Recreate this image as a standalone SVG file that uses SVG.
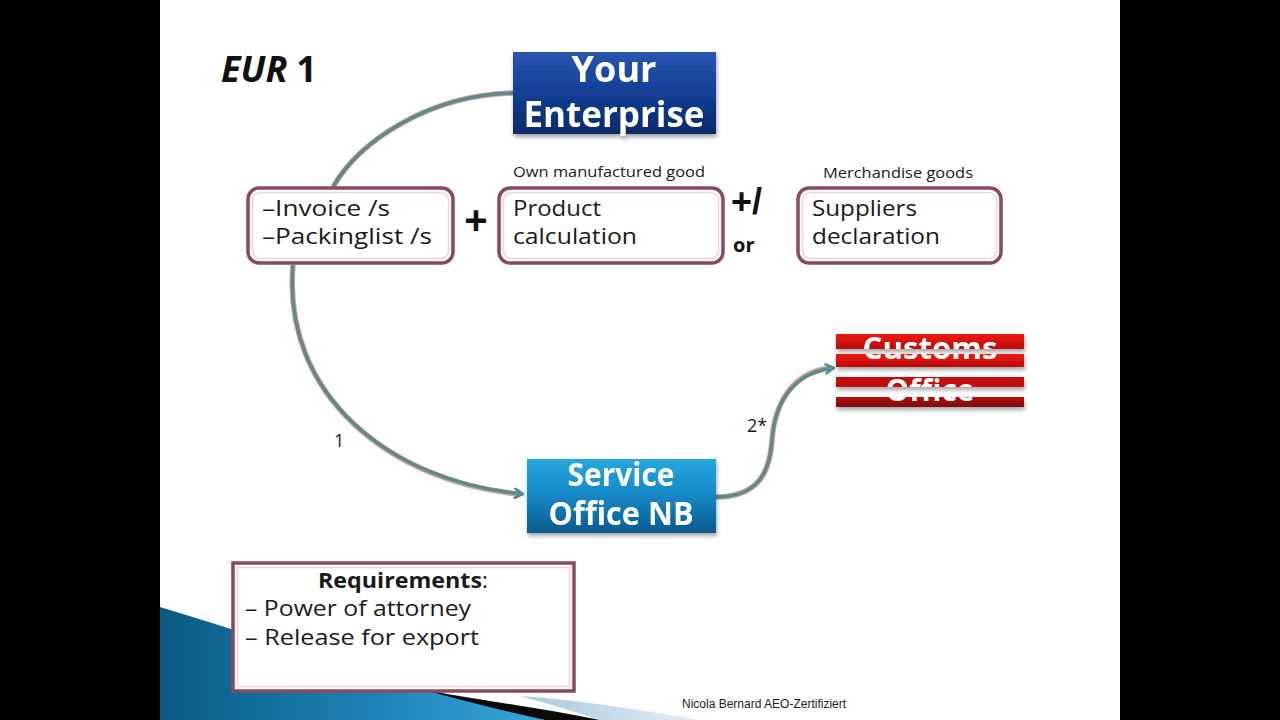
<svg xmlns="http://www.w3.org/2000/svg" width="1280" height="720" viewBox="0 0 1280 720">
<defs>
<linearGradient id="gEnt" x1="0" y1="0" x2="0" y2="1"><stop offset="0" stop-color="#2a55b0"/><stop offset="0.5" stop-color="#133e94"/><stop offset="1" stop-color="#0a2a6a"/></linearGradient>
<linearGradient id="gSvc" x1="0" y1="0" x2="0" y2="1"><stop offset="0" stop-color="#27a8e0"/><stop offset="0.5" stop-color="#1487c4"/><stop offset="1" stop-color="#0a5a8e"/></linearGradient>
<linearGradient id="gRed" x1="0" y1="0" x2="0" y2="1"><stop offset="0" stop-color="#f01a10"/><stop offset="1" stop-color="#b80a0a"/></linearGradient>
<linearGradient id="gRed2" x1="0" y1="0" x2="0" y2="1"><stop offset="0" stop-color="#b81010"/><stop offset="1" stop-color="#7a0808"/></linearGradient>
<linearGradient id="gSwoosh" x1="0" y1="0" x2="1" y2="0"><stop offset="0" stop-color="#0b5a84"/><stop offset="0.6" stop-color="#1e86bb"/><stop offset="1" stop-color="#3aa6d8"/></linearGradient>
<linearGradient id="gLight" x1="0" y1="0" x2="1" y2="0"><stop offset="0" stop-color="#a8c8dc"/><stop offset="1" stop-color="#e4eef5"/></linearGradient>
<filter id="sh" x="-10%" y="-10%" width="130%" height="140%"><feDropShadow dx="1" dy="3" stdDeviation="2" flood-color="#000" flood-opacity="0.35"/></filter>
<marker id="arr" viewBox="0 0 12 12" refX="10" refY="6" markerWidth="12" markerHeight="12" markerUnits="userSpaceOnUse" orient="auto">
<path d="M2,1.5 L10,6 L2,10.5" fill="none" stroke="#5c8684" stroke-width="2.6" stroke-linecap="round" stroke-linejoin="round"/>
<path d="M3,4 L9,6 L3,8 Z" fill="#3aa0c8"/>
</marker>
<clipPath id="cband"><rect x="836" y="334" width="188" height="15"/><rect x="836" y="354" width="188" height="13"/><rect x="836" y="377" width="188" height="10"/><rect x="836" y="397" width="188" height="10"/></clipPath>
<style>
.box{fill:#ffffff;stroke:#8a4a5a;stroke-width:3.5}
.inner{fill:none;stroke:#efd4da;stroke-width:1.5}
.btxt{font-family:"Open Sans","DejaVu Sans",sans-serif;font-size:22px;fill:#1a1a1a}
.small{font-family:"Open Sans","DejaVu Sans",sans-serif;font-size:15px;fill:#1a1a1a}
.wh{font-family:"Open Sans","Liberation Sans",sans-serif;font-weight:bold;fill:#ffffff}
.conn-under{fill:none;stroke:#c9a2a8;stroke-width:5.5}
.conn{fill:none;stroke:#5e8a88;stroke-width:3.5}
.lbl{font-family:"Open Sans","Liberation Sans",sans-serif;font-size:18px;fill:#1a1a1a}
</style>
</defs>
<rect x="0" y="0" width="1280" height="720" fill="#000"/>
<rect x="160" y="0" width="960" height="720" fill="#ffffff"/>
<g id="decoration">
<path d="M160,607 C 300,650 420,690 545,720 L160,720 Z" fill="url(#gSwoosh)"/>
<path d="M425,690 C 480,700 540,708 600,720 L545,720 C 500,710 460,700 425,690 Z" fill="#0a0a0a"/>
<path d="M520,696 C 580,700 640,710 700,720 L600,720 C 575,712 550,704 520,696 Z" fill="url(#gLight)"/>
</g>
<g id="title"><text x="221" y="82" font-family="Open Sans, Liberation Sans, sans-serif" font-size="36" font-weight="bold" fill="#111"><tspan font-style="italic">EUR</tspan><tspan dx="9">1</tspan></text></g>
<g id="connectors">
<path class="conn-under" d="M513,93 C 430,95 360,140 333,187"/>
<path class="conn" d="M513,93 C 430,95 360,140 333,187"/>
<path class="conn-under" d="M293,265 C 282,395 390,482 520,494"/>
<path class="conn" d="M293,265 C 282,395 390,482 523,494" marker-end="url(#arr)"/>
<path class="conn-under" d="M716,497 C 760,497 770,470 772,440 C 775,400 795,372 830,368"/>
<path class="conn" d="M716,497 C 760,497 770,470 772,440 C 775,400 795,372 834,368" marker-end="url(#arr)"/>
<text class="lbl" x="334" y="447">1</text>
<text class="lbl" x="747" y="432">2*</text>
</g>
<g id="your-enterprise" filter="url(#sh)">
<rect x="513" y="52" width="203" height="82" fill="url(#gEnt)"/>
<text class="wh" x="614" y="82" font-size="36" text-anchor="middle" textLength="85" lengthAdjust="spacingAndGlyphs">Your</text>
<text class="wh" x="614" y="127" font-size="36" text-anchor="middle" textLength="181" lengthAdjust="spacingAndGlyphs">Enterprise</text>
</g>
<g id="invoice">
<rect class="box" x="248" y="188" width="205" height="75" rx="11"/>
<rect class="inner" x="252.5" y="192.5" width="196" height="66" rx="8"/>
<text class="btxt" x="262" y="216" textLength="128" lengthAdjust="spacingAndGlyphs">–Invoice /s</text>
<text class="btxt" x="262" y="244" textLength="170" lengthAdjust="spacingAndGlyphs">–Packinglist /s</text>
</g>
<g id="plus"><text x="476" y="234" font-family="Liberation Sans, sans-serif" font-size="40" font-weight="bold" fill="#111" text-anchor="middle">+</text></g>
<g id="product">
<text class="small" x="513" y="177" textLength="192" lengthAdjust="spacingAndGlyphs">Own manufactured good</text>
<rect class="box" x="499" y="188" width="224" height="75" rx="11"/>
<rect class="inner" x="503.5" y="192.5" width="215" height="66" rx="8"/>
<text class="btxt" x="513" y="216" textLength="88" lengthAdjust="spacingAndGlyphs">Product</text>
<text class="btxt" x="513" y="244" textLength="124" lengthAdjust="spacingAndGlyphs">calculation</text>
</g>
<g id="plus-or">
<text x="731" y="214" font-family="Liberation Sans, sans-serif" font-size="36" font-weight="bold" fill="#111">+/</text>
<text x="733" y="252" font-family="Open Sans, Liberation Sans, sans-serif" font-size="20" font-weight="bold" fill="#111">or</text>
</g>
<g id="suppliers">
<text class="small" x="823" y="178" textLength="150" lengthAdjust="spacingAndGlyphs">Merchandise goods</text>
<rect class="box" x="798" y="188" width="203" height="75" rx="11"/>
<rect class="inner" x="802.5" y="192.5" width="194" height="66" rx="8"/>
<text class="btxt" x="812" y="216" textLength="105" lengthAdjust="spacingAndGlyphs">Suppliers</text>
<text class="btxt" x="812" y="244" textLength="128" lengthAdjust="spacingAndGlyphs">declaration</text>
</g>
<g id="customs-office" filter="url(#sh)">
<rect x="836" y="334" width="188" height="15" fill="url(#gRed)"/>
<rect x="836" y="354" width="188" height="13" fill="url(#gRed)"/>
<rect x="836" y="377" width="188" height="10" fill="#c40e0e"/>
<rect x="836" y="397" width="188" height="10" fill="url(#gRed2)"/>
<g clip-path="url(#cband)">
<text class="wh" x="930" y="359" font-size="30" text-anchor="middle" textLength="135" lengthAdjust="spacingAndGlyphs">Customs</text>
<text class="wh" x="930" y="401" font-size="30" text-anchor="middle" textLength="89" lengthAdjust="spacingAndGlyphs">Office</text>
</g>
</g>
<g id="service-office" filter="url(#sh)">
<rect x="527" y="459" width="189" height="74" fill="url(#gSvc)"/>
<text class="wh" x="621" y="486" font-size="32" text-anchor="middle" textLength="107" lengthAdjust="spacingAndGlyphs">Service</text>
<text class="wh" x="621" y="525" font-size="32" text-anchor="middle" textLength="145" lengthAdjust="spacingAndGlyphs">Office NB</text>
</g>
<g id="requirements">
<rect x="233" y="563" width="341" height="128" fill="#ffffff" stroke="#8a4a5a" stroke-width="3.5"/>
<rect x="237.5" y="567.5" width="332" height="119" fill="none" stroke="#efd4da" stroke-width="1.5"/>
<text class="btxt" x="318" y="588"><tspan font-weight="bold" textLength="164" lengthAdjust="spacingAndGlyphs">Requirements</tspan><tspan>:</tspan></text>
<text class="btxt" x="245" y="616" textLength="226" lengthAdjust="spacingAndGlyphs">– Power of attorney</text>
<text class="btxt" x="245" y="645" textLength="234" lengthAdjust="spacingAndGlyphs">– Release for export</text>
</g>
<g id="footer"><text x="682" y="708" font-family="Liberation Sans, Arial, sans-serif" font-size="12" fill="#222">Nicola Bernard AEO-Zertifiziert</text></g>
</svg>
